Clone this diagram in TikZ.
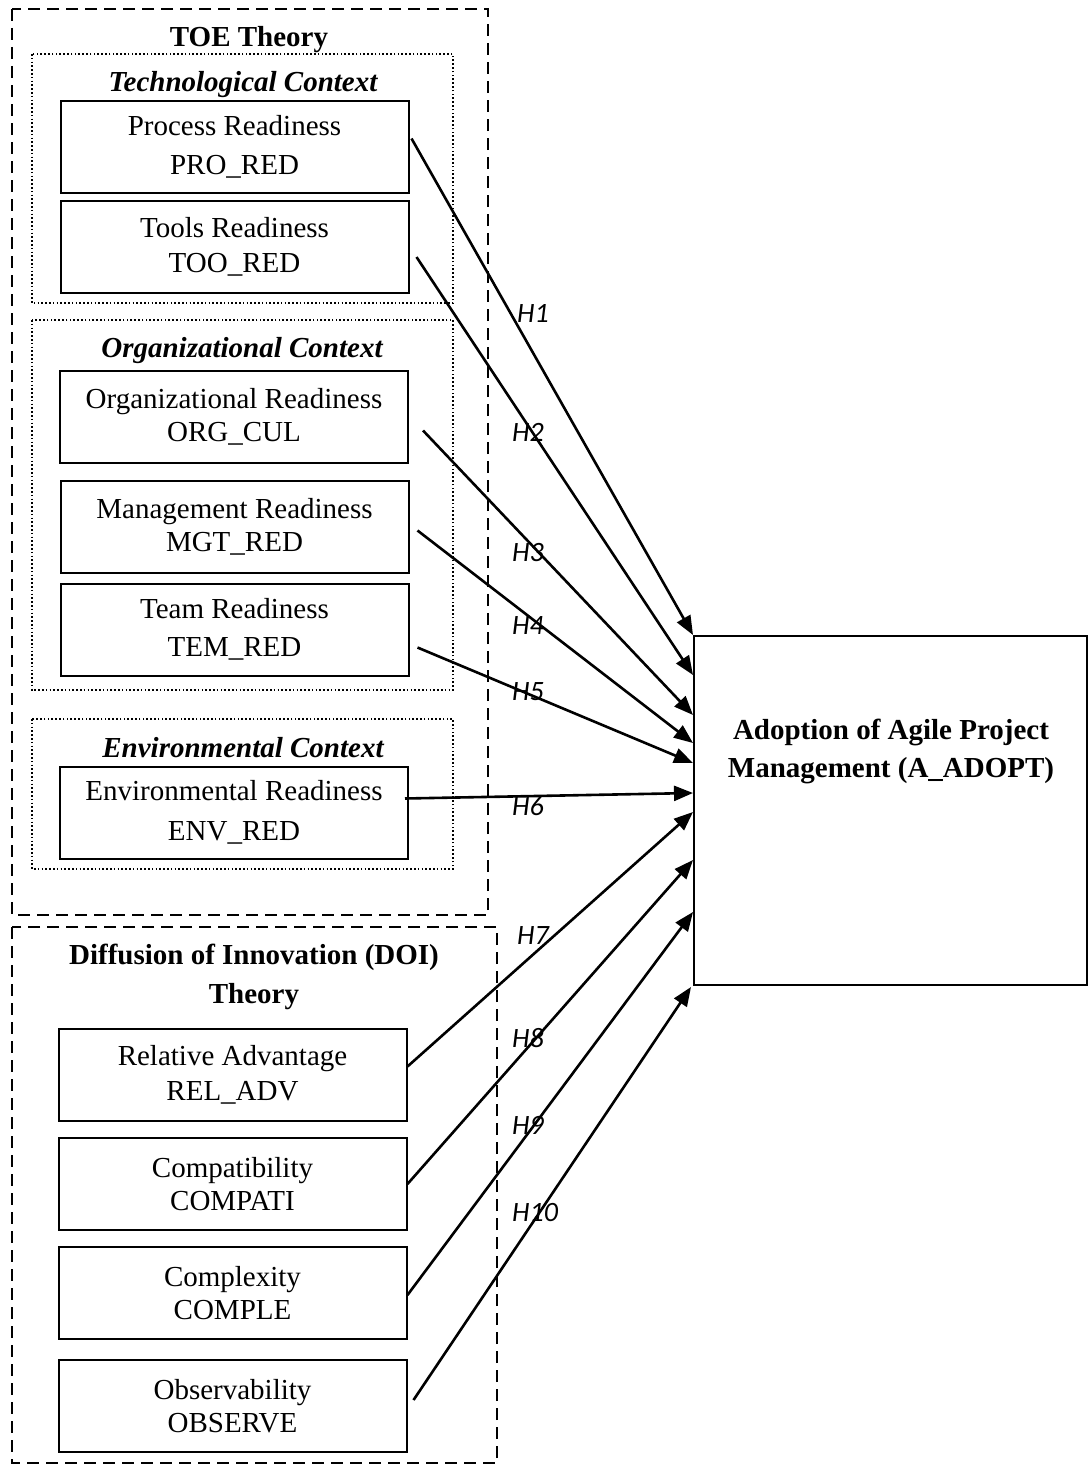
\documentclass[tikz,border=0pt]{standalone}
\usepackage{fontspec}
\setmainfont{Liberation Serif}
\newfontfamily\hypfont{Carlito}
\usetikzlibrary{arrows.meta,calc}
\begin{document}
\begin{tikzpicture}[x=1pt,y=-1pt,
  every node/.style={font=\fontsize{29}{35}\selectfont},
  theory/.style={line width=2.5pt, dash pattern=on 12pt off 7pt},
  context/.style={line width=1.6pt, dash pattern=on 1.6pt off 2.2pt},
  var/.style={draw, line width=2pt, minimum width=348pt, minimum height=92pt,
              inner sep=0pt, align=center},
  linegap/.style={font=\fontsize{29}{#1}\selectfont},
  title/.style={anchor=base, inner sep=0pt, font=\fontsize{29}{35}\selectfont\bfseries},
  ctxtitle/.style={anchor=base, inner sep=0pt, font=\fontsize{29}{35}\selectfont\bfseries\itshape},
  hyp/.style={-{Triangle[length=19pt,width=15pt]}, line width=2.6pt},
  hlabel/.style={anchor=west, inner sep=0pt, font=\hypfont\itshape\fontsize{28}{30}\selectfont}
]
\useasboundingbox (0,0) rectangle (1088,1464);

% theory frames
\draw[theory] (12,9) rectangle (488,915);
\draw[theory] (12,927) rectangle (497,1463);

% context frames
\draw[context] (32,54) rectangle (453,303);
\draw[context] (32,320) rectangle (453,690);
\draw[context] (32,719) rectangle (453,869);

% headings
\node[title] (toe) at (249,47) {TOE Theory};
\node[ctxtitle] (tech) at (243,91) {Technological Context};
\node[ctxtitle] (orgc) at (242,357) {Organizational Context};
\node[ctxtitle] (envc) at (243,757) {Environmental Context};
\node[font=\fontsize{29}{39}\selectfont\bfseries, align=center, inner sep=0pt]
  (doi) at (254,977) {Diffusion of Innovation (DOI)\\Theory};

% constructs
\node[var, linegap=39] (pro) at (234.5,146.5) {Process Readiness\\PRO\_RED};
\node[var, linegap=35] (too) at (234.5,247) {Tools Readiness\\TOO\_RED};
\node[var, linegap=33] (org) at (234,416.5) {Organizational Readiness\\ORG\_CUL};
\node[var, linegap=33] (mgt) at (234.5,526.5) {Management Readiness\\MGT\_RED};
\node[var, linegap=38] (tem) at (234.5,629.5) {Team Readiness\\TEM\_RED};
\node[var, linegap=40] (env) at (234,812.5) {Environmental Readiness\\ENV\_RED};
\node[var, linegap=35] (rel) at (232.5,1074.5) {Relative Advantage\\REL\_ADV};
\node[var, linegap=33] (cpt) at (232.5,1184) {Compatibility\\COMPATI};
\node[var, linegap=33] (cpx) at (232.5,1293) {Complexity\\COMPLE};
\node[var, linegap=33] (obs) at (232.5,1406) {Observability\\OBSERVE};

% outcome
\node[draw, line width=2pt, minimum width=393pt, minimum height=349pt, inner sep=0pt]
  (ad) at (890.5,810.5) {};
\node[font=\fontsize{29}{38}\selectfont\bfseries, align=center, inner sep=0pt]
  (adt) at (891,751) {Adoption of Agile Project\\Management (A\_ADOPT)};

% hypothesised paths
\draw[hyp] ($(pro.east)+(2,-8)$)  -- ($(ad.north west)+(0,0)$);
\draw[hyp] ($(too.east)+(7,10)$)  -- ($(ad.north west)+(0,40)$);
\draw[hyp] ($(org.east)+(14,14)$) -- ($(ad.north west)+(0,80)$);
\draw[hyp] ($(mgt.east)+(8,4)$)   -- ($(ad.north west)+(0,108)$);
\draw[hyp] ($(tem.east)+(8,18)$)  -- ($(ad.north west)+(0,128)$);
\draw[hyp] ($(env.east)+(-4,-14)$) -- ($(ad.north west)+(0,158)$);
\draw[hyp] ($(rel.east)+(0,-8)$)  -- ($(ad.north west)+(0,177)$);
\draw[hyp] ($(cpt.east)+(0,0)$)   -- ($(ad.north west)+(0,225)$);
\draw[hyp] ($(cpx.east)+(0,2)$)   -- ($(ad.north west)+(0,277)$);
\draw[hyp] ($(obs.east)+(6,-6)$)  -- ($(ad.north west)+(-2,352)$);

% path labels
\node[hlabel] (h1)  at (517,313)  {H1};
\node[hlabel] (h2)  at (512,432)  {H2};
\node[hlabel] (h3)  at (512,553)  {H3};
\node[hlabel] (h4)  at (512,626)  {H4};
\node[hlabel] (h5)  at (512,692)  {H5};
\node[hlabel] (h6)  at (512,806)  {H6};
\node[hlabel] (h7)  at (517,936)  {H7};
\node[hlabel] (h8)  at (512,1038) {H8};
\node[hlabel] (h9)  at (512,1125) {H9};
\node[hlabel] (h10) at (512,1213) {H10};
\end{tikzpicture}
\end{document}
